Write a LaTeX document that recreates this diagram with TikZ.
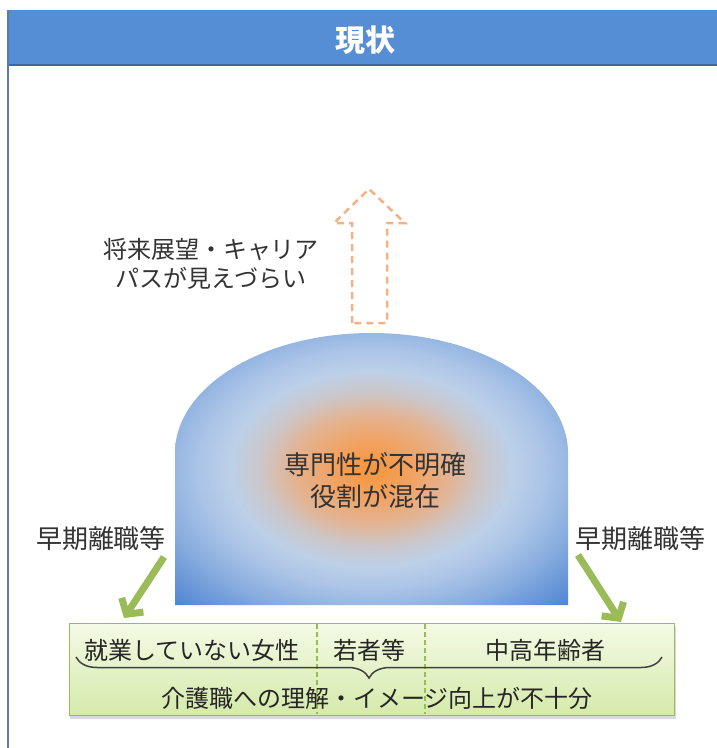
\documentclass[tikz,border=0pt]{standalone}
\usepackage{fontspec}
\newfontfamily\jp{Noto Sans CJK JP}
\usetikzlibrary{arrows.meta,decorations.pathreplacing}
\definecolor{hdrblue}{HTML}{558ED5}
\definecolor{hdrdark}{HTML}{3B67A3}
\definecolor{framecol}{HTML}{5A7BAE}
\definecolor{txtgray}{HTML}{333333}
\definecolor{dashorange}{HTML}{F4B183}
\definecolor{grn}{HTML}{9BBB59}
\definecolor{boxtop}{HTML}{F4FAE6}
\definecolor{boxbot}{HTML}{D5EAAA}
\definecolor{ca}{HTML}{F4963E}
\definecolor{cb}{HTML}{F2A260}
\definecolor{cc}{HTML}{E3B392}
\definecolor{cd}{HTML}{CCC6C8}
\definecolor{ce}{HTML}{BCD0E8}
\definecolor{cf}{HTML}{ABC4E7}
\definecolor{cg}{HTML}{84AADE}
\definecolor{ch}{HTML}{4A80D2}
\pgfdeclareradialshading{domeshade}{\pgfpoint{0bp}{0bp}}{color(0bp)=(ca); color(5bp)=(cb); color(10bp)=(cc); color(14bp)=(cd); color(18bp)=(ce); color(22bp)=(cf); color(28bp)=(cg); color(36bp)=(ch); color(100bp)=(ch)}
\tikzset{
  txt/.style={inner sep=0pt, text=txtgray, align=center, font=\jp\fontsize{24}{29}\selectfont},
  bigtxt/.style={txt, font=\jp\fontsize{26}{32}\selectfont},
  greenarrow/.style={draw=grn, line width=7pt, -{Straight Barb[length=11pt,width=26pt]}},
  divider/.style={draw=grn, line width=1.4pt, dash pattern=on 5pt off 3pt},
}
\begin{document}
\begin{tikzpicture}[x=1pt,y=-1pt]
\useasboundingbox (0,0) rectangle (717,748);
\fill[white] (0,0) rectangle (717,748);
% header
\fill[hdrblue] (8,10) rectangle (717,65);
\draw[hdrdark, line width=1.5pt] (8,65) -- (717,65);
\draw[framecol, line width=1.5pt] (8,10) -- (8,748);
\node[inner sep=0pt, text=white, font=\jp\bfseries\fontsize{30}{34}\selectfont] (title) at (365,40) {現状};
% dashed block arrow
\draw[dashorange, fill=white, line width=2.5pt, dash pattern=on 7pt off 5pt]
  (352,323) -- (352,223) -- (334,223) -- (369,189) -- (405,223) -- (387,223) -- (387,323) -- cycle;
\node[txt] (future) at (211,264) {将来展望・キャリア\\パスが見えづらい};
% dome
\shade[shading=domeshade] (175,605) -- (175,453) arc[start angle=180, end angle=360, x radius=196.5, y radius=120] -- (568,605) -- cycle;
\node[bigtxt] (core) at (375,481) {専門性が不明確\\役割が混在};
% side labels
\node[bigtxt] (leftlbl) at (101,539) {早期離職等};
\node[bigtxt] (rightlbl) at (640,539) {早期離職等};
% bottom box
\fill[black, opacity=0.15] (70,627) rectangle (676,719);
\shade[top color=boxtop, bottom color=boxbot] (69,623) rectangle (674,715);
\node[draw=grn, line width=1pt, minimum width=605pt, minimum height=92pt, inner sep=0pt] (box) at (371.5,669) {};
\draw[divider] (317,624) -- (317,714);
\draw[divider] (425,624) -- (425,714);
\node[txt, text=black!85] (women) at (192,650) {就業していない女性};
\node[txt, text=black!85] (young) at (369,650) {若者等};
\node[txt, text=black!85] (older) at (545,650) {中高年齢者};
\coordinate (brl) at (76,657);
\coordinate (brr) at (662,657);
\draw[black!75, line width=1.5pt, decorate, decoration={brace, mirror, amplitude=21pt}] (brl) -- (brr);
\node[txt, text=black!85] (under) at (377,698) {介護職への理解・イメージ向上が不十分};
% green arrows
\coordinate (la) at (164,557);
\coordinate (lb) at (124,618);
\coordinate (ra) at (578,555);
\coordinate (rb) at (621,622);
\draw[greenarrow] (la) -- (lb);
\draw[greenarrow] (ra) -- (rb);
\end{tikzpicture}
\end{document}
